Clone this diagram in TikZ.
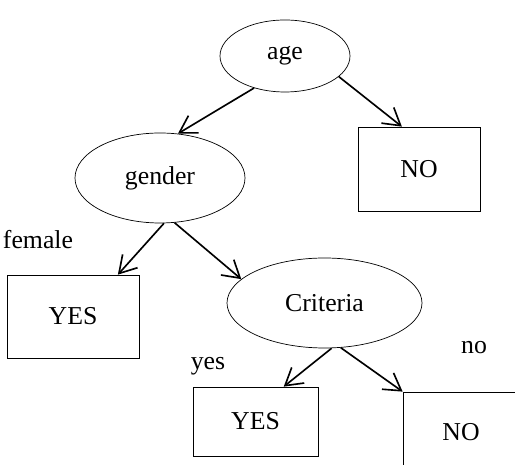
\documentclass[tikz,border=0pt]{standalone}
\usepackage{fontspec}
\setmainfont{Liberation Serif}
\usepackage{tikz}
\usetikzlibrary{shapes.geometric,arrows.meta}

\begin{document}
\begin{tikzpicture}
            [font=\fontsize{22}{26}\selectfont,
             test/.style={draw, ellipse, inner sep = 0pt, line width = 0.6pt},
             leaf/.style={draw, rectangle, inner sep = 0pt, line width = 0.6pt},
             branch/.style={inner sep = 0pt},
             edge/.style={line width = 1.4pt, -{Straight Barb[length=5mm,width=6mm]}}]

            \clip (0,0) rectangle (15.45,13.95);

            \node[test, minimum width = 3.9cm, minimum height = 2.16cm] (age) at (8.55,12.27) {age};
            \node[test, minimum width = 5.1cm, minimum height = 2.7cm] (gender) at (4.8,8.61) {gender};
            \node[leaf, minimum width = 3.66cm, minimum height = 2.52cm] (no1) at (12.57,8.88) {NO};
            \node[leaf, minimum width = 3.96cm, minimum height = 2.49cm] (yes1) at (2.19,4.455) {YES};
            \node[test, minimum width = 5.85cm, minimum height = 2.7cm] (crit) at (9.735,4.86) {Criteria};
            \node[leaf, minimum width = 3.75cm, minimum height = 2.07cm] (yes2) at (7.665,1.305) {YES};
            \node[leaf, minimum width = 3.48cm, minimum height = 2.4cm] (no2) at (13.83,0.99) {NO};

            \path (age.226) edge[edge] (gender.68)
              (age.339) edge[edge] (no1.112)
              (gender.275) edge[edge] (yes1.43)
              (gender.288) edge[edge] (crit.164)
              (crit.279) edge[edge] (yes2.51)
              (crit.290) edge[edge] (no2.north west);

            \node[branch] (female) at (1.14,6.75) {female};
            \node[branch] (yes) at (6.24,2.97) {yes};
            \node[branch] (no) at (14.22,3.51) {no};
        \end{tikzpicture}
\end{document}
